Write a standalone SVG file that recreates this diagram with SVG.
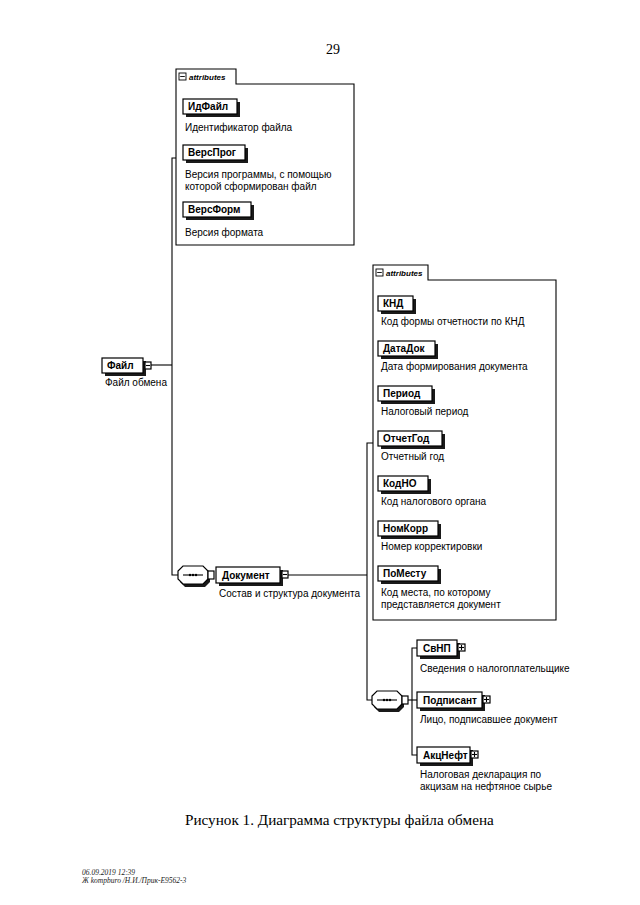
<svg xmlns="http://www.w3.org/2000/svg" xmlns:xlink="http://www.w3.org/1999/xlink" width="640" height="905" viewBox="0 0 640 905">
<style>
.bg{fill:#fff}
.box{fill:#fff;stroke:#000;stroke-width:1.2}
.sh{fill:#1a1a1a}
.ln{stroke:#000;stroke-width:1.1;fill:none}
.name{font-family:"Liberation Sans",Arial,sans-serif;font-weight:bold;font-size:10px;fill:#000}
.desc{font-family:"Liberation Sans",Arial,sans-serif;font-size:10px;fill:#000}
.attr{font-family:"Liberation Sans",Arial,sans-serif;font-style:italic;font-weight:bold;font-size:8px;fill:#000}
.cap{font-family:"Liberation Serif","Times New Roman",serif;font-size:15.2px;fill:#000}
.pg{font-family:"Liberation Serif","Times New Roman",serif;font-size:14px;fill:#000}
.ft{font-family:"Liberation Serif","Times New Roman",serif;font-style:italic;font-size:7.5px;fill:#222}
</style>
<defs>
<g id="minus"><rect x="0" y="0" width="6" height="7" class="box" stroke-width="1"/><line x1="1" y1="3.5" x2="5" y2="3.5" class="ln" stroke-width="0.9"/></g>
<g id="plus"><rect x="0" y="0" width="7" height="7" class="box" stroke-width="1"/><line x1="1" y1="3.5" x2="6" y2="3.5" class="ln" stroke-width="0.9"/><line x1="3.5" y1="1" x2="3.5" y2="6" class="ln" stroke-width="0.9"/></g>
<g id="seq">
<path d="M7,3 H27 L32,8 V16 L27,21 H7 L2,16 V8 Z" class="sh"/>
<path d="M5,0 H25 L30,5 V13 L25,18 H5 L0,13 V5 Z" class="box"/>
<line x1="5" y1="9" x2="25" y2="9" class="ln"/>
<circle cx="12" cy="9" r="1.2"/><circle cx="15" cy="9" r="1.2"/><circle cx="18" cy="9" r="1.2"/>
<rect x="30" y="5" width="6" height="8" class="box" stroke-width="1"/>
</g>
<g id="attrtab"><rect x="0" y="0" width="7" height="7" fill="#fff" stroke="#000" stroke-width="0.9"/><line x1="1.2" y1="3.5" x2="5.8" y2="3.5" stroke="#000" stroke-width="0.9"/></g>
</defs>
<rect class="bg" x="0" y="0" width="640" height="905"/>
<text class="pg" x="326" y="54">29</text>

<g id="connectors">
<polyline class="ln" points="151,365 172,365"/>
<polyline class="ln" points="176,158 172,158 172,575 178,575"/>
<polyline class="ln" points="288,575 367,575"/>
<polyline class="ln" points="373,443 367,443 367,700 372,700"/>
<polyline class="ln" points="408,700 412,700"/>
<polyline class="ln" points="417,648 412,648 412,755 417,755"/>
<polyline class="ln" points="412,700 417,700"/>
</g>

<g id="attributes-file">
<path d="M176,245 V69 H236 V84 H354 V245 Z" fill="#fff" stroke="#000" stroke-width="1.1"/>
<use xlink:href="#attrtab" x="179" y="73"/>
<text class="attr" x="189" y="80">attributes</text>
</g>
<g id="node-IdFile">
<rect class="sh" x="186" y="102" width="54" height="15"/>
<rect class="box" x="183" y="99" width="54" height="15"/>
<text class="name" x="188" y="110">ИдФайл</text>
<text class="desc" x="185" y="131">Идентификатор файла</text>
</g>
<g id="node-VersProg">
<rect class="sh" x="186" y="148" width="62" height="15"/>
<rect class="box" x="183" y="145" width="62" height="15"/>
<text class="name" x="188" y="156">ВерсПрог</text>
<text class="desc" x="185" y="178">Версия программы, с помощью</text>
<text class="desc" x="185" y="190">которой сформирован файл</text>
</g>
<g id="node-VersForm">
<rect class="sh" x="186" y="205" width="68" height="15"/>
<rect class="box" x="183" y="202" width="68" height="15"/>
<text class="name" x="188" y="213">ВерсФорм</text>
<text class="desc" x="185" y="236">Версия формата</text>
</g>

<g id="node-File">
<rect class="sh" x="105" y="361" width="41" height="15"/>
<rect class="box" x="102" y="358" width="41" height="15"/>
<text class="name" x="107" y="369">Файл</text>
<use xlink:href="#minus" x="145" y="362"/>
<text class="desc" x="105" y="386">Файл обмена</text>
</g>

<g id="seq-1"><use xlink:href="#seq" x="178" y="566"/></g>

<g id="node-Document">
<rect class="sh" x="219" y="570" width="64" height="16"/>
<rect class="box" x="216" y="567" width="64" height="16"/>
<text class="name" x="222" y="579">Документ</text>
<use xlink:href="#minus" x="282" y="571"/>
<text class="desc" x="219" y="597">Состав и структура документа</text>
</g>

<g id="attributes-document">
<path d="M373,620 V265 H428 V280 H556 V620 Z" fill="#fff" stroke="#000" stroke-width="1.1"/>
<use xlink:href="#attrtab" x="376" y="269"/>
<text class="attr" x="386" y="276">attributes</text>
</g>
<g id="node-KND">
<rect class="sh" x="381" y="299" width="35" height="15"/>
<rect class="box" x="378" y="296" width="35" height="15"/>
<text class="name" x="383" y="307">КНД</text>
<text class="desc" x="381" y="325">Код формы отчетности по КНД</text>
</g>
<g id="node-DataDok">
<rect class="sh" x="381" y="344" width="57" height="15"/>
<rect class="box" x="378" y="341" width="57" height="15"/>
<text class="name" x="383" y="352">ДатаДок</text>
<text class="desc" x="381" y="370">Дата формирования документа</text>
</g>
<g id="node-Period">
<rect class="sh" x="381" y="389" width="54" height="15"/>
<rect class="box" x="378" y="386" width="54" height="15"/>
<text class="name" x="383" y="397">Период</text>
<text class="desc" x="381" y="415">Налоговый период</text>
</g>
<g id="node-OtchetGod">
<rect class="sh" x="381" y="434" width="64" height="15"/>
<rect class="box" x="378" y="431" width="64" height="15"/>
<text class="name" x="383" y="442">ОтчетГод</text>
<text class="desc" x="381" y="460">Отчетный год</text>
</g>
<g id="node-KodNO">
<rect class="sh" x="381" y="479" width="50" height="15"/>
<rect class="box" x="378" y="476" width="50" height="15"/>
<text class="name" x="383" y="487">КодНО</text>
<text class="desc" x="381" y="505">Код налогового органа</text>
</g>
<g id="node-NomKorr">
<rect class="sh" x="381" y="524" width="60" height="15"/>
<rect class="box" x="378" y="521" width="60" height="15"/>
<text class="name" x="383" y="532">НомКорр</text>
<text class="desc" x="381" y="550">Номер корректировки</text>
</g>
<g id="node-PoMestu">
<rect class="sh" x="381" y="569" width="60" height="15"/>
<rect class="box" x="378" y="566" width="60" height="15"/>
<text class="name" x="383" y="577">ПоМесту</text>
<text class="desc" x="381" y="596">Код места, по которому</text>
<text class="desc" x="381" y="608">представляется документ</text>
</g>

<g id="seq-2"><use xlink:href="#seq" x="372" y="691"/></g>

<g id="node-SvNP">
<rect class="sh" x="420" y="643" width="40" height="16"/>
<rect class="box" x="417" y="640" width="40" height="16"/>
<text class="name" x="423" y="652">СвНП</text>
<use xlink:href="#plus" x="458" y="644"/>
<text class="desc" x="420" y="672">Сведения о налогоплательщике</text>
</g>
<g id="node-Podpisant">
<rect class="sh" x="420" y="695" width="65" height="16"/>
<rect class="box" x="417" y="692" width="65" height="16"/>
<text class="name" x="423" y="704">Подписант</text>
<use xlink:href="#plus" x="483" y="696"/>
<text class="desc" x="420" y="723">Лицо, подписавшее документ</text>
</g>
<g id="node-AkcNeft">
<rect class="sh" x="420" y="750" width="53" height="16"/>
<rect class="box" x="417" y="747" width="53" height="16"/>
<text class="name" x="423" y="759">АкцНефт</text>
<use xlink:href="#plus" x="471" y="751"/>
<text class="desc" x="420" y="778">Налоговая декларация по</text>
<text class="desc" x="420" y="790">акцизам на нефтяное сырье</text>
</g>

<text class="cap" x="185" y="825">Рисунок 1. Диаграмма структуры файла обмена</text>
<text class="ft" x="82" y="875">06.09.2019 12:39</text>
<text class="ft" x="82" y="883">Ж kompburo /Н.И./Прик-Е9562-3</text>
</svg>
